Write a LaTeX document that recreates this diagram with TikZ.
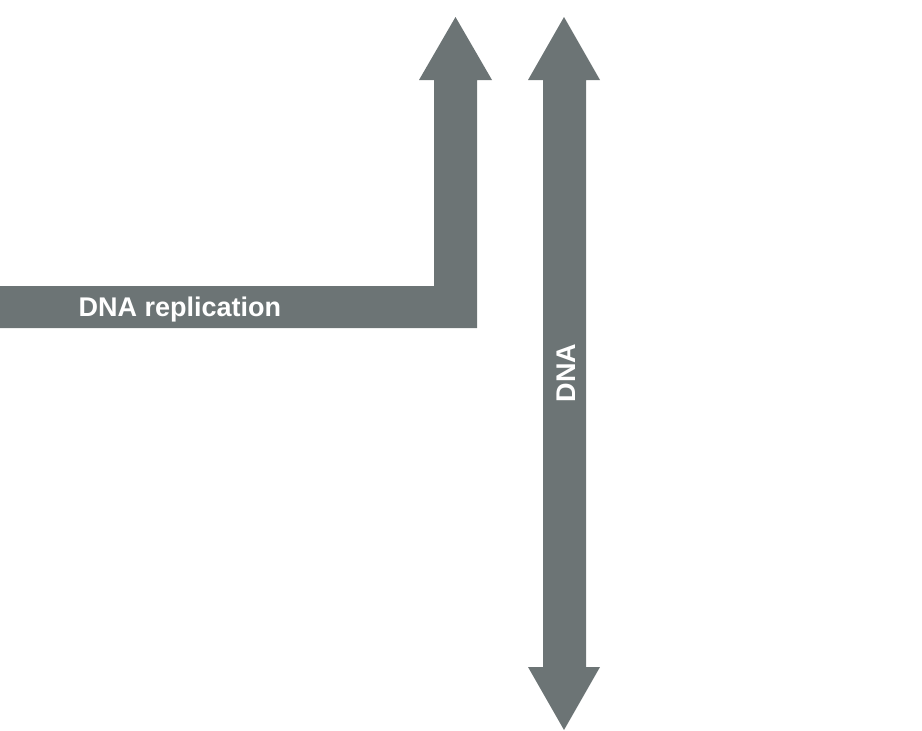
\documentclass[tikz,border=0pt]{standalone}
\usepackage{fontspec}
\setmainfont{Liberation Sans}
\definecolor{dnagray}{RGB}{108,116,117}
\tikzset{
    band/.style={fill=dnagray, draw=none},
    bandlabel/.style={text=white, font=\fontsize{27}{31}\selectfont\bfseries, inner sep=0pt}
}
\begin{document}
\begin{tikzpicture}[x=1pt, y=-1pt]
        \useasboundingbox (0, 0) rectangle (922, 731);
        \begin{scope}
            % replication strand, bends upwards
            \fill[band] (0, 286) -- (434, 286) -- (434, 80) -- (419, 80) -- (455.5, 17)
                -- (492, 80) -- (477, 80) -- (477, 328) -- (0, 328) -- cycle;
            \node[bandlabel] (replication) at (180, 310) {DNA replication};
        \end{scope}
        \begin{scope}
            % double headed strand
            \fill[band] (543, 80) -- (528, 80) -- (564, 17) -- (600, 80) -- (586, 80)
                -- (586, 667) -- (600, 667) -- (564, 730) -- (528, 667) -- (543, 667) -- cycle;
            \node[bandlabel, rotate=90] (dna) at (566, 373) {DNA};
        \end{scope}
    \end{tikzpicture}
\end{document}
